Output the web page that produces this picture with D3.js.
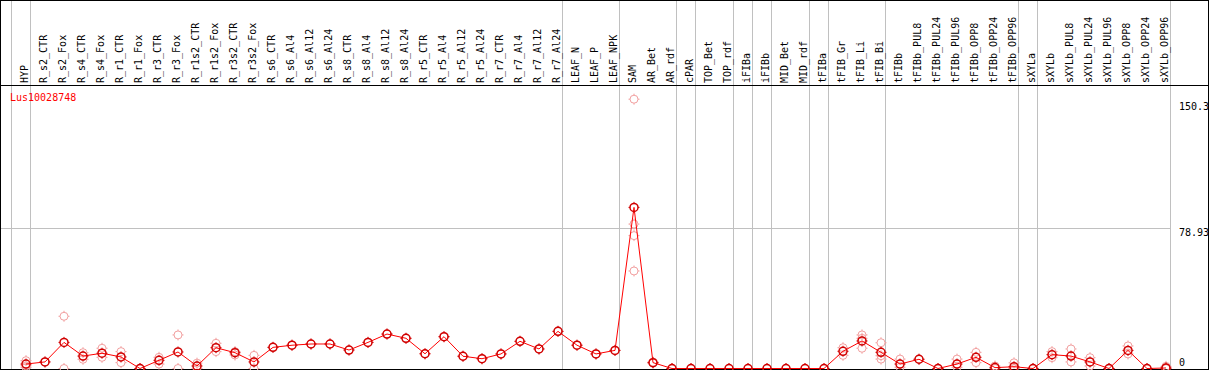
<!DOCTYPE html>
<html>
<head>
  <style>
    body { margin: 0; background: #fff; }
    text { font-family: "DejaVu Sans Mono", monospace; font-size: 10px; }
  </style>
</head>
<body>
  <script src="https://cdn.jsdelivr.net/npm/d3@7"></script>
  <script>
    // chart data
    var columns = ["HYP", "R_s2_CTR", "R_s2_Fox", "R_s4_CTR", "R_s4_Fox", "R_r1_CTR", "R_r1_Fox",
      "R_r3_CTR", "R_r3_Fox", "R_r1s2_CTR", "R_r1s2_Fox", "R_r3s2_CTR", "R_r3s2_Fox",
      "R_s6_CTR", "R_s6_Al4", "R_s6_Al12", "R_s6_Al24", "R_s8_CTR", "R_s8_Al4", "R_s8_Al12", "R_s8_Al24",
      "R_r5_CTR", "R_r5_Al4", "R_r5_Al12", "R_r5_Al24", "R_r7_CTR", "R_r7_Al4", "R_r7_Al12", "R_r7_Al24",
      "LEAF_N", "LEAF_P", "LEAF_NPK", "SAM", "AR_Bet", "AR_rdf", "cPAR", "TOP_Bet", "TOP_rdf",
      "iFIBa", "iFIBb", "MID_Bet", "MID_rdf", "tFIBa", "tFIB_Gr", "tFIB_Li", "tFIB_Bi",
      "tFIBb", "tFIBb_PUL8", "tFIBb_PUL24", "tFIBb_PUL96", "tFIBb_OPP8", "tFIBb_OPP24", "tFIBb_OPP96",
      "sXYLa", "sXYLb", "sXYLb_PUL8", "sXYLb_PUL24", "sXYLb_PUL96", "sXYLb_OPP8", "sXYLb_OPP24", "sXYLb_OPP96"];

    // mean expression per column
    var means = [2.5, 3.7, 14.7, 7.0, 8.6, 6.5, 0, 4.6, 9.3, 1.4, 11.7, 8.9, 3.7,
      11.9, 13.1, 13.8, 13.8, 10.4, 14.7, 19.4, 17.0, 8.3, 17.9, 6.9, 5.5, 8.2, 15.3, 11.0, 20.9,
      13.1, 8.2, 10.2, 90.7, 3.3, 0, 0, 0, 0, 0, 0, 0, 0, 0, 9.7, 15.5, 9.1,
      2.5, 5.2, 0, 2.5, 6.3, 0.5, 1.0, 0, 7.8, 7.0, 3.7, 0, 10.2, 0, 0.3];

    // replicate values per column
    var replicates = [[4.4, 1.5, 0.5], [3.7], [29.4, 0], [8.9, 5.2], [11.4, 6.3], [9.5, 3.3], [0, 0],
      [6.3, 2.5], [18.9, 0], [3.0, 0], [14.2, 9.5], [9.5, 7.6], [7.4, 0],
      [11.9], [13.1], [13.8], [13.8], [10.4], [14.7], [19.4], [17.0],
      [8.3], [17.9], [6.9], [5.5], [8.2], [15.3], [11.0], [20.9],
      [13.1], [8.2], [10.2], [151.6, 81.3, 74.8, 54.9], [3.6, 3.0], [0, 0], [0], [0], [0],
      [0], [0], [0], [0], [0], [11.7, 7.4], [18.9, 17.0, 11.4], [14.5, 7.2, 5.3],
      [5.3, 0.7], [5.2], [0, 0], [5.3, 0.7], [9.1, 3.3], [1.4, 0], [3.2, 0, 0],
      [0], [9.5, 6.1], [11.0, 3.7], [6.1, 1.4], [0, 0], [12.7, 8.2], [0, 0], [1.2, 0, 0]];

    // group boundaries (index of last column of each group, -1 = before first)
    var groupEnds = [-1, 0, 28, 31, 34, 35, 37, 38, 39, 41, 42, 45, 52, 53, 60];

    var yTicks = [150.3, 78.93, 0];
    var geneName = "Lus10028748";

    var width = 1209;
    var height = 370;
    var headerBottom = 85.5;

    var x = d3.scalePoint().domain(columns).range([26, 1166]);
    var step = x.step();
    var y = d3.scaleLinear().domain([0, 150.3]).range([368.5, 101.5]);

    var svg = d3.select("body")
                .append("svg")
                .attr("width", width)
                .attr("height", height);

    // gray group separators
    svg.append("g")
       .selectAll("line")
       .data(groupEnds)
       .enter()
       .append("line")
       .attr("x1", function(d) { return (d < 0 ? x(columns[0]) - step : x(columns[d])) + 4.5; })
       .attr("x2", function(d) { return (d < 0 ? x(columns[0]) - step : x(columns[d])) + 4.5; })
       .attr("y1", 0)
       .attr("y2", height)
       .attr("stroke", "#c0c0c0")
       .attr("shape-rendering", "crispEdges");

    // gray horizontal at middle tick
    svg.append("line")
       .attr("x1", 0)
       .attr("x2", x(columns[columns.length - 1]) + 4.5)
       .attr("y1", Math.round(y(78.93)) + 0.5)
       .attr("y2", Math.round(y(78.93)) + 0.5)
       .attr("stroke", "#c0c0c0")
       .attr("shape-rendering", "crispEdges");

    // frame and header separator
    svg.append("rect")
       .attr("x", 0.5).attr("y", 0.5)
       .attr("width", width - 1.5).attr("height", height - 1.5)
       .attr("fill", "none")
       .attr("stroke", "#000")
       .attr("shape-rendering", "crispEdges");

    svg.append("line")
       .attr("x1", 0).attr("x2", width)
       .attr("y1", headerBottom).attr("y2", headerBottom)
       .attr("stroke", "#000")
       .attr("shape-rendering", "crispEdges");

    // column labels
    svg.append("g")
       .selectAll("text")
       .data(columns)
       .enter()
       .append("text")
       .attr("transform", function(d) { return "translate(" + (x(d) + 2) + ",83) rotate(-90)"; })
       .attr("fill", "#000")
       .text(function(d) { return d; });

    // right axis labels
    svg.append("g")
       .selectAll("text")
       .data(yTicks)
       .enter()
       .append("text")
       .attr("x", 1179)
       .attr("y", function(d) { return d === 0 ? 365.5 : y(d) + 8; })
       .attr("fill", "#000")
       .text(function(d) { return d; });

    // gene label
    svg.append("text")
       .attr("x", 10)
       .attr("y", 100.5)
       .attr("fill", "#ff0000")
       .text(geneName);

    // marker: circle with small ticks
    function marker(g, color, w) {
      g.append("circle").attr("r", 4).attr("fill", "none").attr("stroke", color).attr("stroke-width", w);
      g.append("path")
       .attr("d", "M0,-5.5V-4M0,4V5.5M-5.5,0H-4M4,0H5.5")
       .attr("stroke", color).attr("stroke-width", 1);
    }

    // replicate circles
    var reps = [];
    replicates.forEach(function(r, i) {
      r.forEach(function(v) { reps.push({col: columns[i], v: v}); });
    });
    svg.append("g")
       .selectAll("g")
       .data(reps)
       .enter()
       .append("g")
       .attr("transform", function(d) { return "translate(" + x(d.col) + "," + y(d.v) + ")"; })
       .each(function() { marker(d3.select(this), "#f2a0a0", 1); });

    // mean line
    var line = d3.line()
                 .x(function(d, i) { return x(columns[i]); })
                 .y(function(d) { return y(d); });

    svg.append("path")
       .datum(means)
       .attr("d", line)
       .attr("fill", "none")
       .attr("stroke", "#ff0000")
       .attr("stroke-width", 1);

    // mean circles
    svg.append("g")
       .selectAll("g")
       .data(means)
       .enter()
       .append("g")
       .attr("transform", function(d, i) { return "translate(" + x(columns[i]) + "," + y(d) + ")"; })
       .each(function() { marker(d3.select(this), "#d00000", 1.5); });
  </script>
</body>
</html>
